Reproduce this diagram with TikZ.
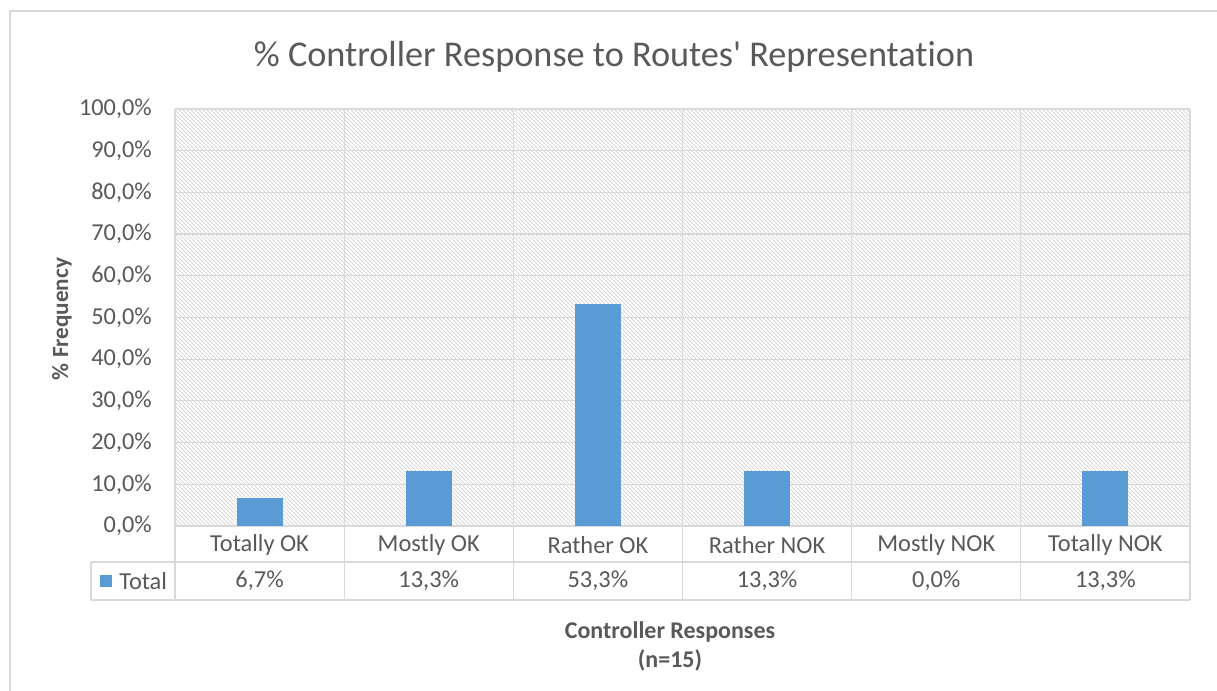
\documentclass[tikz,border=0pt]{standalone}
\usepackage{fontspec}
\setmainfont{Carlito}[Ligatures={TeXOff,NoCommon}]
\usetikzlibrary{patterns}
\definecolor{txt}{HTML}{595959}
\definecolor{grid}{HTML}{D9D9D9}
\definecolor{bar}{HTML}{5B9BD5}
\definecolor{hatch}{HTML}{CDCDCD}
\tikzset{
  gridline/.style={draw=grid, line width=0.9pt},
  tick/.style={font=\fontsize{18.2}{18}\selectfont, text=txt, anchor=east, inner sep=0pt},
  cat/.style={font=\fontsize{18.3}{18}\selectfont, text=txt, inner sep=0pt},
  barbox/.style={fill=bar, draw=none},
  axtitle/.style={font=\bfseries\fontsize{18}{21.75}\selectfont, text=txt, inner sep=0pt, align=center},
}
\begin{document}
\begin{tikzpicture}[x=0.75pt,y=-0.75pt]
\useasboundingbox (0,0) rectangle (1217,691);
\fill[white] (0,0) rectangle (1217,691);
% outer chart border
\draw[draw=grid, line width=1.5pt] (10,691) -- (10,11) -- (1217,11);
% title
\node[font=\fontsize{27.2}{27}\selectfont, text=txt, inner sep=0pt] (title) at (614,57) {\% Controller Response to Routes' Representation};
% plot area hatch
\fill[pattern=north west lines, pattern color=hatch] (175,109) rectangle (1190,526);
% horizontal grid lines
\foreach \i in {1,...,10} {
  \draw[gridline] (175,{526-41.7*\i}) -- (1190,{526-41.7*\i});
}
% vertical lines
\foreach \xx in {175,344.2,513.3,682.5,851.7,1020.8,1190} {
  \draw[gridline] (\xx,109) -- (\xx,600);
}
% table horizontal lines
\draw[gridline] (175,526) -- (1190,526);
\draw[gridline] (91,562) -- (1190,562);
\draw[gridline] (91,600) -- (1190,600);
\draw[gridline] (91,562) -- (91,600);
% tick labels
\foreach \i/\lab in {0/{0,0\%},1/{10,0\%},2/{20,0\%},3/{30,0\%},4/{40,0\%},5/{50,0\%},6/{60,0\%},7/{70,0\%},8/{80,0\%},9/{90,0\%},10/{100,0\%}} {
  \node[tick] (t\i) at (152,{526-41.7*\i}) {\lab};
}
% bars (Mostly NOK is 0,0% and has no bar)
\foreach \k/\v in {0/6.7,1/13.3,2/53.3,3/13.3,5/13.3} {
  \path[barbox] ({175+169.17*\k+84.58-23},526) rectangle ({175+169.17*\k+84.58+23},{526-4.17*\v});
}
% category labels and values
\foreach \k/\c/\v in {0/Totally OK/{6,7\%},1/Mostly OK/{13,3\%},2/Rather OK/{53,3\%},3/Rather NOK/{13,3\%},4/Mostly NOK/{0,0\%},5/Totally NOK/{13,3\%}} {
  \node[cat] (c\k) at ({175+169.17*\k+84.58},545) {\c};
  \node[cat] (v\k) at ({175+169.17*\k+84.58},581) {\v};
}
% legend
\fill[bar] (100,575) rectangle (112,587);
\node[cat, anchor=west] (leg) at (119,581) {Total};
% axis titles
\node[axtitle] (xt) at (670,646) {Controller Responses\\(n=15)};
\node[axtitle, font=\bfseries\fontsize{17.4}{18}\selectfont, rotate=90] (yt) at (62,319) {\% Frequency};
\end{tikzpicture}
\end{document}
